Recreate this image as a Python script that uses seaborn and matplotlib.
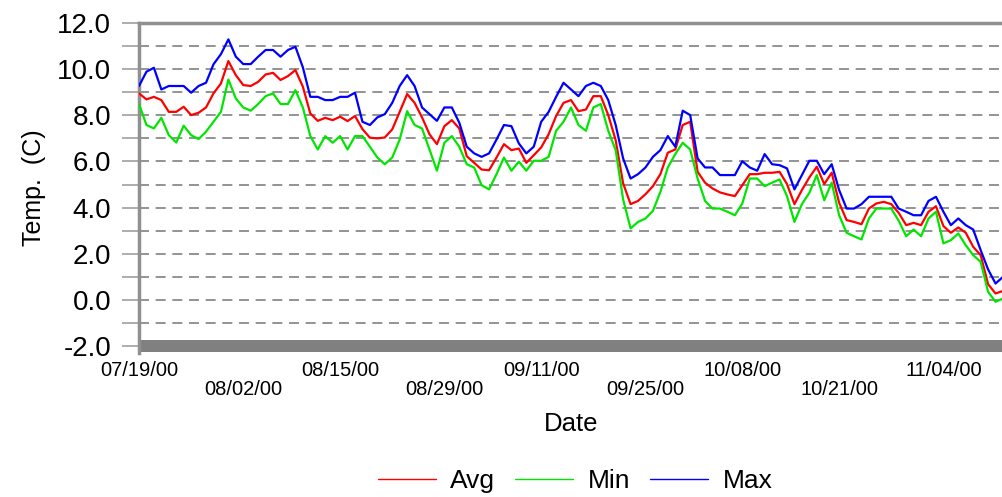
import matplotlib
matplotlib.use("Agg")
import matplotlib.pyplot as plt
import seaborn as sns
import pandas as pd

# daily values, 07/19/00 .. 11/12/00
avg_vals = [8.95, 8.69, 8.80, 8.66, 8.15, 8.15, 8.37, 8.01, 8.11, 8.34,
            8.95, 9.38, 10.35, 9.74, 9.31, 9.27, 9.45, 9.77, 9.84, 9.53,
            9.70, 9.96, 9.24, 8.08, 7.76, 7.89, 7.79, 7.94, 7.75, 7.97,
            7.40, 7.03, 7.00, 7.04, 7.39, 8.15, 8.92, 8.54, 7.91, 7.18,
            6.75, 7.53, 7.79, 7.43, 6.23, 5.94, 5.65, 5.62, 6.17, 6.75,
            6.49, 6.56, 5.94, 6.27, 6.61, 7.18, 7.97, 8.54, 8.66, 8.18,
            8.25, 8.83, 8.83, 8.01, 6.92, 5.05, 4.15, 4.29, 4.58, 4.93,
            5.45, 6.38, 6.52, 7.58, 7.72, 5.55, 5.08, 4.83, 4.66, 4.57,
            4.50, 4.97, 5.45, 5.45, 5.51, 5.51, 5.55, 5.02, 4.15, 4.76,
            5.31, 5.77, 5.02, 5.51, 4.21, 3.46, 3.38, 3.28, 3.96, 4.18,
            4.25, 4.15, 3.77, 3.24, 3.34, 3.24, 3.82, 4.06, 3.20, 2.91,
            3.14, 2.91, 2.30, 1.94, 0.68, 0.28, 0.39]
min_vals = [8.49, 7.58, 7.43, 7.89, 7.14, 6.82, 7.55, 7.14, 6.97, 7.29,
            7.72, 8.15, 9.55, 8.73, 8.34, 8.20, 8.49, 8.83, 8.95, 8.49,
            8.49, 9.09, 8.34, 7.10, 6.52, 7.10, 6.81, 7.10, 6.52, 7.10,
            7.10, 6.64, 6.17, 5.88, 6.17, 6.95, 8.18, 7.58, 7.43, 6.52,
            5.60, 6.81, 7.10, 6.64, 5.88, 5.74, 4.97, 4.79, 5.45, 6.17,
            5.60, 5.99, 5.60, 6.03, 6.03, 6.20, 7.33, 7.72, 8.34, 7.58,
            7.33, 8.34, 8.49, 7.33, 6.49, 4.35, 3.10, 3.38, 3.53, 3.86,
            4.68, 5.74, 6.32, 6.81, 6.52, 5.26, 4.29, 3.96, 3.96, 3.82,
            3.67, 4.18, 5.26, 5.26, 4.93, 5.08, 5.22, 4.50, 3.38, 4.15,
            4.64, 5.41, 4.32, 5.08, 3.67, 2.91, 2.76, 2.62, 3.53, 3.96,
            3.96, 3.96, 3.43, 2.76, 3.05, 2.76, 3.53, 3.82, 2.45, 2.59,
            2.88, 2.37, 1.94, 1.65, 0.35, -0.08, 0.06]
max_vals = [9.27, 9.89, 10.06, 9.12, 9.27, 9.27, 9.27, 8.98, 9.27, 9.41,
            10.21, 10.65, 11.29, 10.54, 10.22, 10.22, 10.54, 10.83, 10.83, 10.54,
            10.83, 10.97, 10.08, 8.80, 8.80, 8.66, 8.66, 8.80, 8.80, 8.98,
            7.72, 7.58, 7.91, 8.05, 8.54, 9.27, 9.74, 9.27, 8.34, 8.05,
            7.76, 8.34, 8.34, 7.68, 6.64, 6.35, 6.20, 6.35, 6.95, 7.58,
            7.53, 6.78, 6.35, 6.64, 7.72, 8.15, 8.80, 9.41, 9.12, 8.83,
            9.27, 9.41, 9.27, 8.66, 7.58, 6.13, 5.26, 5.45, 5.74, 6.20,
            6.49, 7.10, 6.64, 8.20, 8.01, 6.13, 5.74, 5.74, 5.41, 5.41,
            5.41, 6.01, 5.74, 5.60, 6.32, 5.88, 5.84, 5.70, 4.79, 5.41,
            6.03, 6.03, 5.45, 5.88, 4.76, 3.96, 3.96, 4.15, 4.47, 4.47,
            4.47, 4.47, 3.96, 3.82, 3.67, 3.67, 4.29, 4.47, 3.82, 3.24,
            3.53, 3.24, 3.05, 2.16, 1.32, 0.71, 1.00]

tick_days = [0, 14, 27, 41, 54, 68, 81, 94, 108]
tick_text = ['07/19/00', '08/02/00', '08/15/00', '08/29/00', '09/11/00',
             '09/25/00', '10/08/00', '10/21/00', '11/04/00']

df = pd.DataFrame({'day': range(len(avg_vals)), 'Avg': avg_vals,
                   'Min': min_vals, 'Max': max_vals})
long_df = df.melt(id_vars='day', var_name='series', value_name='temp')

sns.set_style("white")
plt.rcParams['font.family'] = ['Liberation Sans', 'DejaVu Sans']
plt.rcParams['text.color'] = 'black'
plt.rcParams['axes.labelcolor'] = 'black'
plt.rcParams['xtick.labelcolor'] = 'black'
plt.rcParams['ytick.labelcolor'] = 'black'

fig = plt.figure(figsize=(10.03, 4.97), dpi=100)
ax = fig.add_axes([139 / 1003, 1 - 353 / 497, 864 / 1003, 330 / 497])

# grey floor band and dashed grid
ax.axhspan(-2.26, -1.74, color='#808080', lw=0, zorder=1)
for y in range(-1, 12):
    ax.axhline(y, color='#808080', lw=1.2, ls=(0, (6, 4)), zorder=1)

sns.lineplot(data=long_df, x='day', y='temp', hue='series', ax=ax,
             palette={'Avg': '#ff0000', 'Min': '#00e600', 'Max': '#0000ff'},
             linewidth=1.6, zorder=3)

ax.set_xlim(0, len(avg_vals) - 1)
ax.set_ylim(-2.3, 12)
ax.set_yticks(range(-2, 13, 2))
ax.set_yticklabels([f'{v:.1f}' for v in range(-2, 13, 2)], fontsize=20)
ax.set_yticks(range(-1, 12, 2), minor=True)
ax.tick_params(axis='y', which='both', direction='out', length=12, width=1.2,
               color='#a0a0a0', pad=8, left=True)

ax.set_xticks(tick_days)
ax.set_xticklabels([t if i % 2 == 0 else '\n' + t for i, t in enumerate(tick_text)],
                   fontsize=14.5, linespacing=1.0)
ax.tick_params(axis='x', length=0, pad=6)

for side in ['bottom', 'right']:
    ax.spines[side].set_visible(False)
for side in ['left', 'top']:
    ax.spines[side].set_color('#909090')
    ax.spines[side].set_linewidth(2.5)

ax.set_ylabel('Temp.  (C)', fontsize=18, labelpad=8)
ax.set_xlabel('Date', fontsize=18.5, labelpad=9)

ax.get_legend().remove()
handles, labels = ax.get_legend_handles_labels()
leg = fig.legend(handles, labels, loc='center', bbox_to_anchor=(575 / 1003, 1 - 481 / 497),
                 ncol=3, frameon=False, fontsize=19, handlelength=2.2,
                 handletextpad=0.55, columnspacing=0.75)
for line in leg.get_lines():
    line.set_linewidth(1.0)

fig.savefig('out.png', dpi=100)
